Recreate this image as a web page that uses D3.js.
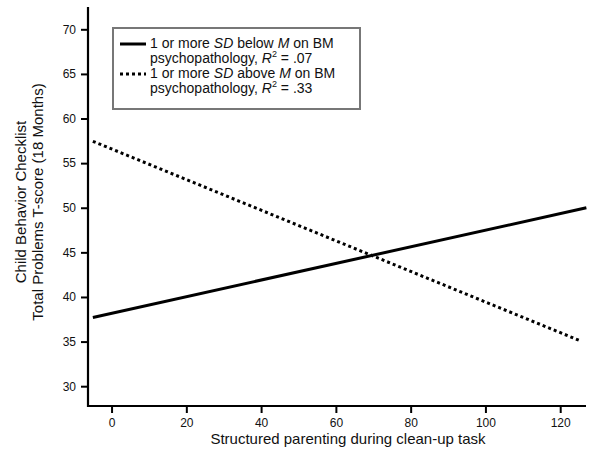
<!DOCTYPE html>
<html><head><meta charset="utf-8">
<script src="https://cdn.jsdelivr.net/npm/d3@7"></script>
<style>body{margin:0;background:#fff}svg{display:block}text{font-family:"Liberation Sans",Arial,sans-serif;fill:#111}</style>
</head><body><svg id="c" width="600" height="455"></svg>
<script>
const xTicks = [0, 20, 40, 60, 80, 100, 120];
const yTicks = [30, 35, 40, 45, 50, 55, 60, 65, 70];
const lowX = [-5, 127];
const lowY = [37.7, 50.0];
const highX = [-5, 125];
const highY = [57.45, 35.15];

const svg = d3.select("#c");
const L = 88, R = 586, T = 7, B = 406;
const x = d3.scaleLinear().domain([-6.3, 126.9]).range([L, R]);
const y = d3.scaleLinear().domain([27.78, 72.5]).range([B, T]);

const xa = svg.append("g").attr("transform", `translate(0,${B})`)
  .call(d3.axisBottom(x).tickValues(xTicks).tickSize(7).tickPadding(5).tickSizeOuter(0));
const ya = svg.append("g").attr("transform", `translate(${L},0)`)
  .call(d3.axisLeft(y).tickValues(yTicks).tickSize(7).tickPadding(5).tickSizeOuter(0));
[xa, ya].forEach(a => {
  a.select(".domain").attr("stroke", "#000").attr("stroke-width", 2.2);
  a.selectAll(".tick line").attr("stroke", "#000").attr("stroke-width", 2);
  a.selectAll(".tick text").attr("font-size", 12).attr("font-family", '"Liberation Sans",Arial,sans-serif').attr("fill", "#222");
});
xa.select(".domain").attr("d", `M${L - 1},0H${R}`);
ya.select(".domain").attr("d", `M0,${T}V${B + 1}`);

const line = d3.line().x(d => x(d[0])).y(d => y(d[1]));
svg.append("path").datum(d3.zip(lowX, lowY)).attr("d", line)
  .attr("fill", "none").attr("stroke", "#000").attr("stroke-width", 3);
svg.append("path").datum(d3.zip(highX, highY)).attr("d", line)
  .attr("fill", "none").attr("stroke", "#000").attr("stroke-width", 3).attr("stroke-dasharray", "3,3");

// axis titles
svg.append("text").attr("x", 348).attr("y", 444).attr("text-anchor", "middle")
  .attr("font-size", 15).text("Structured parenting during clean-up task");
const yt = svg.append("text").attr("transform", "translate(26,202) rotate(-90)").attr("text-anchor", "middle").attr("font-size", 15);
yt.append("tspan").attr("x", 0).attr("y", 0).text("Child Behavior Checklist");
yt.append("tspan").attr("x", 0).attr("y", 17).text("Total Problems T-score (18 Months)");

// legend
const lg = svg.append("g");
lg.append("rect").attr("x", 113).attr("y", 28).attr("width", 247).attr("height", 81)
  .attr("fill", "#fff").attr("stroke", "#777").attr("stroke-width", 2);
lg.append("line").attr("x1", 120).attr("x2", 146).attr("y1", 44).attr("y2", 44).attr("stroke", "#000").attr("stroke-width", 3);
lg.append("line").attr("x1", 120).attr("x2", 146).attr("y1", 74).attr("y2", 74).attr("stroke", "#000").attr("stroke-width", 3).attr("stroke-dasharray", "3,3");
function row(yb, parts) {
  const t = lg.append("text").attr("x", 150).attr("y", yb).attr("font-size", 14);
  parts.forEach(p => {
    const s = t.append("tspan").text(p[0]);
    if (p[1] === "i") s.attr("font-style", "italic");
    if (p[1] === "sup") s.attr("font-size", 9).attr("dy", -6);
    if (p[1] === "down") s.attr("dy", 6);
  });
}
row(48, [["1 or more "], ["SD", "i"], [" below "], ["M", "i"], [" on BM"]]);
row(63, [["psychopathology, "], ["R", "i"], ["2", "sup"], [" = .07", "down"]]);
row(78, [["1 or more "], ["SD", "i"], [" above "], ["M", "i"], [" on BM"]]);
row(93, [["psychopathology, "], ["R", "i"], ["2", "sup"], [" = .33", "down"]]);
</script></body></html>
